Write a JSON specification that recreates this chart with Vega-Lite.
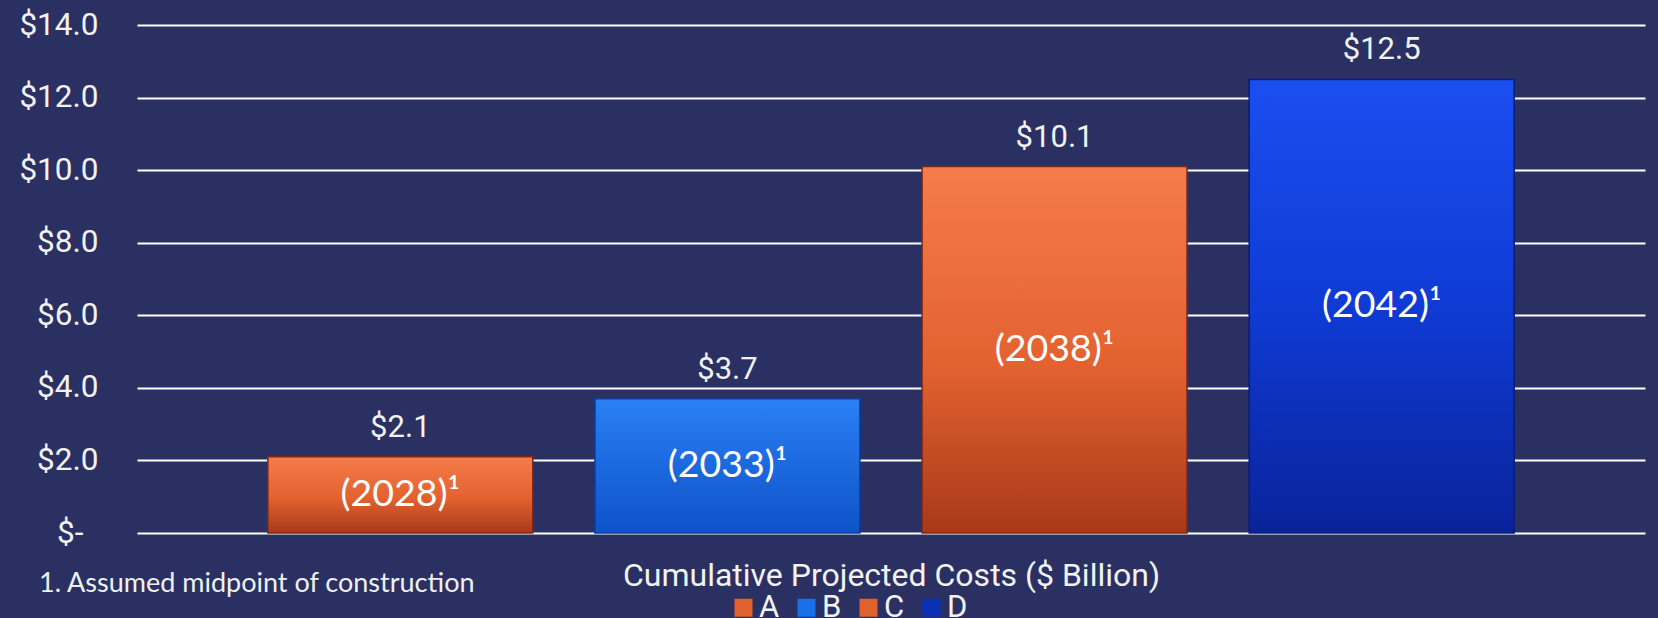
{
  "$schema": "https://vega.github.io/schema/vega-lite/v6.json",
  "width": 1508,
  "height": 508,
  "autosize": {"type": "none"},
  "padding": {"left": 137, "top": 25, "right": 13, "bottom": 85},
  "background": "#2a3062",
  "config": {"view": {"stroke": null}, "font": "Roboto"},
  "title": {
    "text": "1. Assumed midpoint of construction",
    "orient": "bottom",
    "anchor": "start",
    "frame": "group",
    "font": "Lato",
    "fontSize": 27,
    "fontWeight": "normal",
    "color": "#f0f0f0",
    "dx": -98,
    "offset": -52
  },
  "data": {
    "values": [
      {"cat": "A", "value": 2.1, "label": "(2028)¹"},
      {"cat": "B", "value": 3.7, "label": "(2033)¹"},
      {"cat": "C", "value": 10.1, "label": "(2038)¹"},
      {"cat": "D", "value": 12.5, "label": "(2042)¹"}
    ]
  },
  "encoding": {
    "x": {
      "field": "cat",
      "type": "nominal",
      "scale": {"paddingInner": 0.19, "paddingOuter": 0.4},
      "axis": {
        "labels": false,
        "ticks": false,
        "domain": false,
        "grid": false,
        "title": "Cumulative Projected Costs ($ Billion)",
        "titleFont": "Roboto",
        "titleFontSize": 32,
        "titleFontWeight": "normal",
        "titleColor": "#f2f2f2",
        "titlePadding": 27
      }
    }
  },
  "layer": [
    {
      "mark": {"type": "bar"},
      "encoding": {
        "y": {
          "field": "value",
          "type": "quantitative",
          "scale": {"domain": [0, 14]},
          "axis": {
            "values": [0, 2, 4, 6, 8, 10, 12, 14],
            "labelExpr": "datum.value === 0 ? '$-' : '$' + format(datum.value, '.1f')",
            "grid": true,
            "gridColor": "#ffffff",
            "gridWidth": 2,
            "domain": false,
            "ticks": false,
            "tickSize": 0,
            "labelPadding": {"condition": {"test": "datum.value === 0", "value": 54}, "value": 39},
            "labelFont": "Roboto",
            "labelFontSize": 31.5,
            "labelColor": "#f2f2f2",
            "title": null
          }
        },
        "color": {
          "field": "cat",
          "type": "nominal",
          "scale": {"domain": ["A", "B", "C", "D"], "range": ["#e0602e", "#1a70e8", "#e0602e", "#0a30b8"]},
          "legend": {
            "orient": "none",
            "legendX": 591,
            "legendY": 567,
            "direction": "horizontal",
            "title": null,
            "symbolType": "square",
            "symbolSize": 324,
            "symbolStrokeWidth": 0,
            "labelFont": "Roboto",
            "labelFontSize": 31,
            "labelColor": "#f2f2f2",
            "labelOffset": 0,
            "columnPadding": 11
          }
        }
      }
    },
    {
      "mark": {"type": "bar", "strokeWidth": 1.5},
      "encoding": {
        "y": {"field": "value", "type": "quantitative", "scale": {"domain": [0, 14]}, "axis": null},
        "color": {
          "condition": [
            {"test": "datum.cat === 'A' || datum.cat === 'C'", "value": {"gradient": "linear", "x1": 0, "y1": 0, "x2": 0, "y2": 1, "stops": [{"offset": 0, "color": "#f67c4b"}, {"offset": 0.55, "color": "#e2612f"}, {"offset": 1, "color": "#a8391a"}]}},
            {"test": "datum.cat === 'B'", "value": {"gradient": "linear", "x1": 0, "y1": 0, "x2": 0, "y2": 1, "stops": [{"offset": 0, "color": "#2a80f4"}, {"offset": 1, "color": "#0e52c8"}]}}
          ],
          "value": {"gradient": "linear", "x1": 0, "y1": 0, "x2": 0, "y2": 1, "stops": [{"offset": 0, "color": "#1b4ef0"}, {"offset": 0.5, "color": "#0f3bd4"}, {"offset": 1, "color": "#09239a"}]}
        },
        "stroke": {
          "condition": [
            {"test": "datum.cat === 'A' || datum.cat === 'C'", "value": "#7d2612"},
            {"test": "datum.cat === 'B'", "value": "#0d3c9a"}
          ],
          "value": "#0a1c78"
        }
      }
    },
    {
      "mark": {"type": "text", "dy": -20, "baseline": "alphabetic", "font": "Roboto", "fontSize": 31, "color": "#f2f2f2"},
      "encoding": {
        "y": {"field": "value", "type": "quantitative", "scale": {"domain": [0, 14]}, "axis": null},
        "text": {"field": "value", "type": "quantitative", "format": "$.1f"}
      }
    },
    {
      "mark": {"type": "text", "baseline": "middle", "font": "Lato", "fontSize": 37.5, "color": "#ffffff"},
      "encoding": {
        "y": {"field": "value", "type": "quantitative", "scale": {"domain": [0, 28]}, "axis": null},
        "text": {"field": "label", "type": "nominal"}
      }
    }
  ],
  "resolve": {"scale": {"y": "independent"}}
}
